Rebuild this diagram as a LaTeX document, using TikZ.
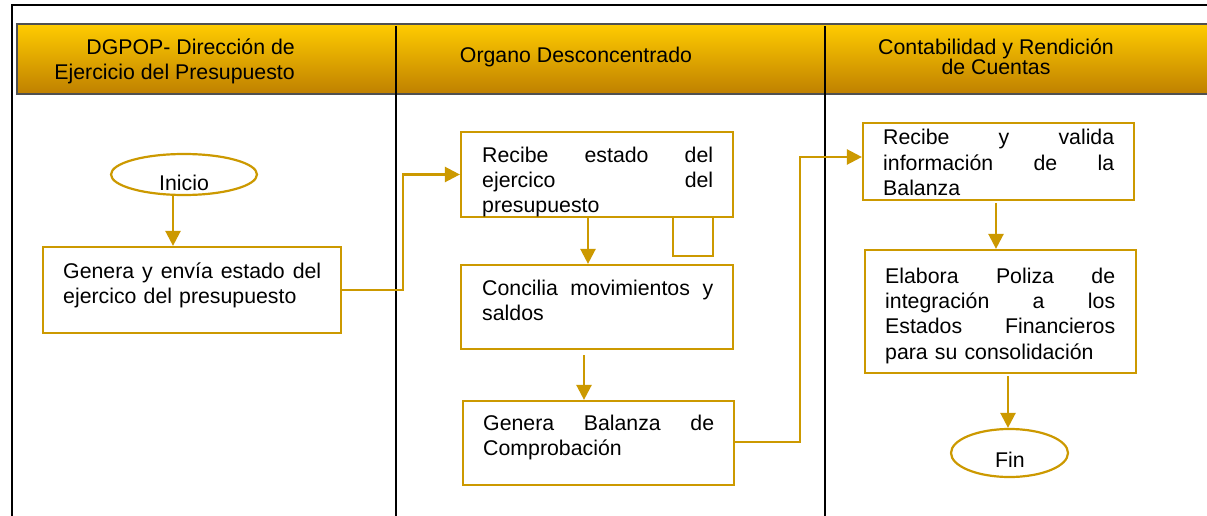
\documentclass[tikz,border=0pt]{standalone}
\usepackage{fontspec}
\setmainfont{Liberation Sans}
\usetikzlibrary{arrows.meta,shapes.geometric}
\definecolor{gold}{RGB}{204,153,0}
\definecolor{hdtop}{RGB}{255,204,0}
\definecolor{hdbot}{RGB}{191,128,0}
\definecolor{hdline}{RGB}{80,80,80}
\newcommand{\jl}[2]{\makebox[#1][s]{\spaceskip=0.278em plus 3em\relax #2}}
\begin{document}
\begin{tikzpicture}[x=1pt,y=-1pt,
 box/.style={draw=gold,line width=2.2pt,rectangle,inner sep=0pt},
 oval/.style={draw=gold,line width=2.2pt,ellipse,inner sep=0pt},
 txt/.style={inner sep=0pt,font=\fontsize{21.3}{25.4}\selectfont,align=left,text width=260pt},
 lbl/.style={inner sep=0pt,font=\fontsize{21.3}{25.4}\selectfont},
 arr/.style={draw=gold,line width=2.4pt,-{Triangle[length=15pt,width=15pt]}},
 conn/.style={draw=gold,line width=2.4pt},
 lane/.style={draw=black,line width=1.4pt}]
\useasboundingbox (0,0) rectangle (1207,516);
\fill[white] (0,0) rectangle (1207,516);
% header band
\node[rectangle,inner sep=0pt,minimum width=1194pt,minimum height=70pt,
  top color=hdtop,bottom color=hdbot,draw=hdline,line width=1.5pt] (hdr) at (614,59) {};
% outer frame
\coordinate (fbl) at (12,516);
\coordinate (ftl) at (12,5);
\coordinate (ftr) at (1210,5);
\draw[line width=2.6pt] (fbl) -- (ftl) -- (ftr);
% lane separators
\coordinate (l1t) at (396,26);
\coordinate (l1b) at (396,518);
\coordinate (l2t) at (825,26);
\coordinate (l2b) at (825,518);
\draw[lane] (l1t) -- (l1b);
\draw[lane] (l2t) -- (l2b);
% header texts
\node[lbl,align=right,anchor=base east] (h1) at (295,80) {DGPOP- Dirección de\\Ejercicio del Presupuesto};
\node[lbl,anchor=base] (h2) at (576,63) {Organo Desconcentrado};
\node[lbl,align=center,anchor=base,font=\fontsize{21.3}{17}\selectfont] (h3) at (996,75) {Contabilidad y Rendición\\de Cuentas};
% shapes
\node[oval,minimum width=146pt,minimum height=41pt] (ini) at (184,174.5) {};
\node[lbl] (tini) at (184,183) {Inicio};
\node[box,minimum width=298pt,minimum height=86pt] (gen) at (192,290) {};
\node[box,minimum width=40pt,minimum height=39pt] (aux) at (693,236.5) {};
\node[box,fill=white,minimum width=272pt,minimum height=85pt] (rec) at (597,174.5) {};
\node[box,minimum width=272pt,minimum height=84pt] (con) at (597,307) {};
\node[box,minimum width=271pt,minimum height=84pt] (bal) at (598.5,443) {};
\node[box,minimum width=271pt,minimum height=77pt] (val) at (998.5,161.5) {};
\node[box,minimum width=271pt,minimum height=123pt] (ela) at (1000.5,311.5) {};
\node[oval,minimum width=117pt,minimum height=48pt] (fin) at (1009.5,453) {};
\node[lbl] (tfin) at (1010,460) {Fin};
% texts
\node[txt,anchor=base west] (tgen) at (63,278) {\jl{258pt}{Genera y envía estado del}\\ejercico del presupuesto};
\node[txt,anchor=base west] (trec) at (482,162) {\jl{231pt}{Recibe estado del}\\\jl{231pt}{ejercico del}\\presupuesto};
\node[txt,anchor=base west] (tcon) at (482,295) {\jl{231pt}{Concilia movimientos y}\\saldos};
\node[txt,anchor=base west] (tbal) at (483,430) {\jl{231pt}{Genera Balanza de}\\Comprobación};
\node[txt,anchor=base west] (tval) at (883,145) {\jl{231pt}{Recibe y valida}\\\jl{231pt}{información de la}\\Balanza};
\node[txt,anchor=base west] (tela) at (885,283) {\jl{230pt}{Elabora Poliza de}\\\jl{230pt}{integración a los}\\\jl{230pt}{Estados Financieros}\\para su consolidación};
% connectors
\draw[arr] ([xshift=-11pt]ini.south) -- ([xshift=-19pt]gen.north);
\draw[arr] (gen.east) -- ++(61,0) |- (rec.west);
\draw[arr] ([xshift=-9pt]rec.south) -- ([xshift=-9pt]con.north);
\draw[arr] ([xshift=-13pt,yshift=-5pt]con.south) -- ([xshift=-14.5pt]bal.north);
\draw[arr] ([yshift=1pt]bal.east) -- ++(65,0) |- ([yshift=4.5pt]val.west);
\draw[arr] ([xshift=-2.5pt,yshift=-2pt]val.south) -- ([xshift=-4.5pt]ela.north);
\draw[arr] ([xshift=7.5pt,yshift=-2pt]ela.south) -- ([xshift=-1.5pt]fin.north);
\end{tikzpicture}
\end{document}
